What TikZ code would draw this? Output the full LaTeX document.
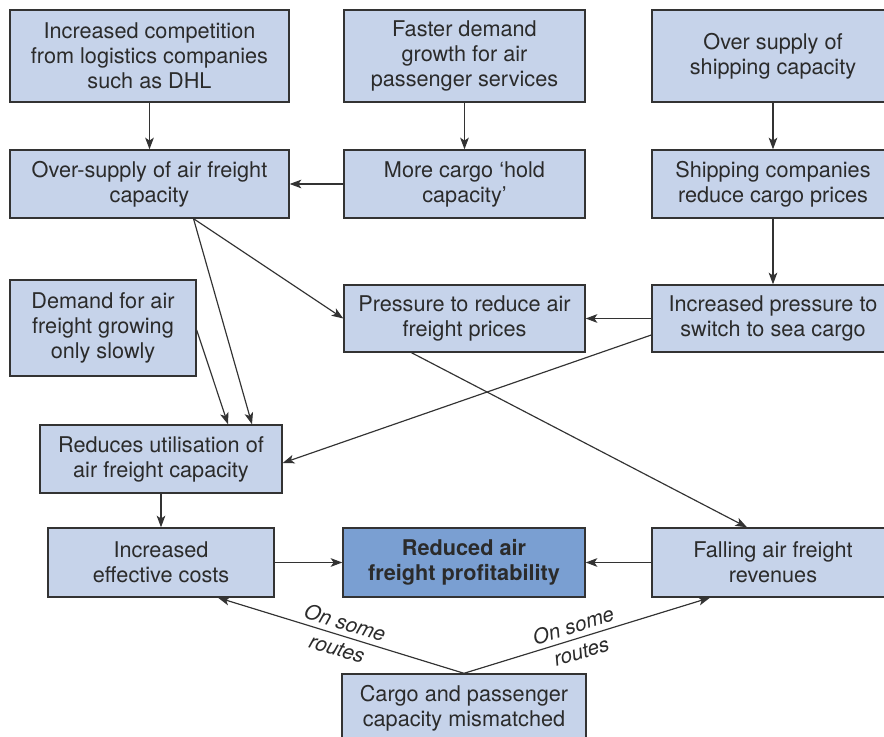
\documentclass[tikz,border=0pt]{standalone}
\usepackage{fontspec}
\setmainfont{TeX Gyre Heros}
\usetikzlibrary{arrows.meta,calc}
\definecolor{boxfill}{HTML}{C6D3EA}
\definecolor{keyfill}{HTML}{7A9FD2}
\definecolor{edgegrey}{HTML}{333333}
\definecolor{inkgrey}{HTML}{2B2B2B}
\tikzset{
	cause/.style={draw=edgegrey, fill=boxfill, text=inkgrey, line width=1.2pt, align=center, inner sep=0pt, font=\fontsize{18.5}{21.3}\selectfont},
	keycause/.style={cause, fill=keyfill, font=\fontsize{18.5}{21.3}\selectfont\bfseries},
	boxwh/.style 2 args={minimum width=#1*0.03cm, minimum height=#2*0.03cm},
	link/.style={draw=edgegrey, line width=1pt, -{Stealth[length=0.35cm,width=0.26cm,inset=0.09cm]}},
	routes/.style={font=\fontsize{17.6}{23}\selectfont\itshape, text=inkgrey, sloped, align=center, inner sep=0pt}
}

\begin{document}
\begin{tikzpicture}[x=0.03cm, y=-0.03cm]
		%%%%% START %%%%%
		
		\useasboundingbox (0, 0) rectangle (884, 737);
		\clip (0, 0) rectangle (884, 737);
		
		\node[cause, boxwh={279}{92}] (competition) at (149.5, 56) {Increased competition\\from logistics companies\\such as DHL};
		\node[cause, boxwh={241}{92}] (passenger) at (464.5, 56) {Faster demand\\growth for air\\passenger services};
		\node[cause, boxwh={242}{92}] (shipsupply) at (773, 56) {Over supply of\\shipping capacity};
		
		\node[cause, boxwh={279}{68}] (oversupply) at (149.5, 184) {Over-supply of air freight\\capacity};
		\node[cause, boxwh={241}{68}] (hold) at (464.5, 184) {More cargo ‘hold\\capacity’};
		\node[cause, boxwh={242}{68}] (shipprices) at (773, 184) {Shipping companies\\reduce cargo prices};
		
		\node[cause, boxwh={186}{96}] (slowdemand) at (103, 328) {Demand for air\\freight growing\\only slowly};
		\node[cause, boxwh={241}{67}] (pricepress) at (464.5, 318.5) {Pressure to reduce air\\freight prices};
		\node[cause, boxwh={242}{67}] (seaswitch) at (773, 318.5) {Increased pressure to\\switch to sea cargo};
		
		\node[cause, boxwh={242}{68}] (utilisation) at (161, 459) {Reduces utilisation of\\air freight capacity};
		
		\node[cause, boxwh={226}{69}] (costs) at (161, 562.5) {Increased\\effective costs};
		\node[keycause, boxwh={242}{69}] (profit) at (464, 562.5) {Reduced air\\freight profitability};
		\node[cause, boxwh={242}{69}] (revenues) at (773, 562.5) {Falling air freight\\revenues};
		
		\node[cause, boxwh={244}{68}] (mismatch) at (464, 708) {Cargo and passenger\\capacity mismatched};
		
		% top rows
		\draw[link] (competition) -- (oversupply);
		\draw[link] (passenger) -- (hold);
		\draw[link] (shipsupply) -- (shipprices);
		\draw[link] (hold) -- (oversupply);
		\draw[link] (shipprices) -- (seaswitch);
		\draw[link] (seaswitch) -- (pricepress);
		
		% crossing links
		\draw[link] ($(seaswitch.west)+(0, 16.5)$) -- ($(utilisation.east)+(0, 4)$);
		\draw[link] ($(oversupply.south)+(44, 0)$) -- (pricepress.west);
		\draw[link] ($(oversupply.south)+(44, 0)$) -- ($(utilisation.north)+(91, 0)$);
		\draw[link] ($(slowdemand.east)+(0, 2)$) -- ($(utilisation.north)+(67, 0)$);
		\draw[link] ($(pricepress.south)+(-53, 0)$) -- ($(revenues.north)+(-26, 0)$);
		
		% bottom
		\draw[link] (utilisation) -- (costs);
		\draw[link] (costs) -- (profit);
		\draw[link] (revenues) -- (profit);
		\draw[link] (mismatch.north) -- node[routes, pos=0.5] {On some\\routes} ($(costs.south)+(57, 0)$);
		\draw[link] (mismatch.north) -- node[routes, pos=0.46] {On some\\routes} ($(revenues.south)+(-63, 0)$);
		
		%%%%% END %%%%%
	\end{tikzpicture}
\end{document}
